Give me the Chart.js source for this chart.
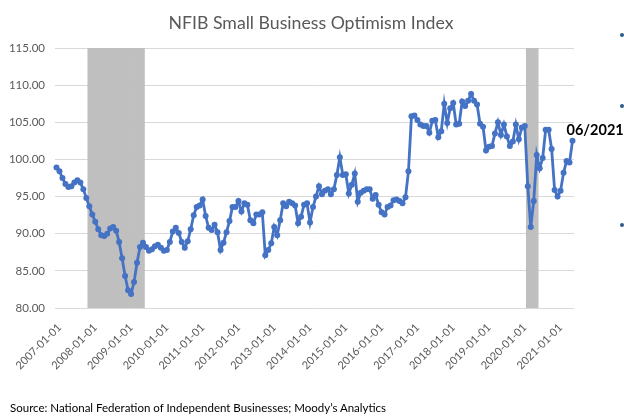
<!DOCTYPE html>
<html lang="en">
  <head>
    <meta charset="UTF-8" />
    <title>NFIB Small Business Optimism Index</title>
    <script src="https://cdn.jsdelivr.net/npm/chart.js"></script>
    <style>
      body {
        margin: 0;
        background: #fff;
      }
      #wrap {
        position: relative;
        width: 624px;
        height: 416px;
      }
      #title {
        position: absolute;
        left: 0;
        top: 12px;
        width: 622px;
        text-align: center;
        font: 17.7px/21px Lato, sans-serif;
        color: #595959;
      }
      #source {
        position: absolute;
        left: 10px;
        top: 401px;
        font: 11.5px Lato, sans-serif;
        color: #000;
        white-space: nowrap;
      }
      .dot {
        position: absolute;
        left: 620px;
        width: 4px;
        height: 4px;
        border-radius: 50%;
        background: #2e5c8a;
      }
    </style>
  </head>
  <body>
    <div id="wrap">
      <canvas id="chart" width="624" height="416"></canvas>
      <div id="title">NFIB Small Business Optimism Index</div>
      <div id="source">
        Source: National Federation of Independent Businesses; Moody’s Analytics
      </div>
      <span class="dot" style="top: 33px"></span>
      <span class="dot" style="top: 104px"></span>
      <span class="dot" style="top: 223px"></span>
    </div>
    <script>
      // monthly index values (Jan 2007 - Jun 2021)
      const firstYear = 2007
      const y2007 = [98.9, 98.4, 97.5, 96.7, 96.3, 96.4, 96.9, 97.2, 96.9, 96.0, 94.8, 93.7]
      const y2008 = [92.6, 91.6, 90.6, 89.8, 89.7, 90.0, 90.7, 90.9, 90.4, 88.9, 86.7, 84.3]
      const y2009 = [82.4, 81.9, 83.5, 86.1, 88.2, 88.8, 88.2, 87.7, 87.9, 88.3, 88.5, 88.1]
      const y2010 = [87.7, 87.8, 88.9, 90.3, 90.8, 90.1, 88.9, 88.1, 89.0, 90.6, 92.5, 93.6]
      const y2011 = [93.8, 94.6, 92.4, 90.8, 90.5, 91.2, 90.2, 87.8, 88.8, 90.2, 91.7, 93.6]
      const y2012 = [93.6, 94.4, 93.0, 94.1, 93.9, 91.8, 91.4, 92.6, 92.6, 92.9, 87.1, 87.8]
      const y2013 = [88.7, 90.9, 89.8, 91.8, 94.1, 93.7, 94.3, 94.1, 93.8, 91.4, 92.3, 93.9]
      const y2014 = [94.1, 91.5, 93.6, 95.0, 96.4, 95.3, 95.8, 96.0, 95.3, 96.0, 97.9, 100.3]
      const y2015 = [97.9, 98.0, 95.4, 96.6, 98.1, 94.3, 95.5, 95.8, 96.0, 96.0, 94.7, 95.2]
      const y2016 = [93.9, 92.9, 92.6, 93.6, 93.8, 94.5, 94.6, 94.4, 94.1, 94.9, 98.4, 105.8]
      const y2017 = [105.9, 105.3, 104.7, 104.5, 104.5, 103.6, 105.2, 105.3, 103.0, 103.8, 107.5, 104.9]
      const y2018 = [106.9, 107.6, 104.7, 104.8, 107.8, 107.2, 107.9, 108.8, 107.9, 107.4, 104.8, 104.4]
      const y2019 = [101.2, 101.7, 101.8, 103.5, 105.0, 103.3, 104.7, 103.1, 101.8, 102.4, 104.7, 102.7]
      const y2020 = [104.3, 104.5, 96.4, 90.9, 94.4, 100.6, 98.8, 100.2, 104.0, 104.0, 101.4, 95.9]
      const y2021 = [95.0, 95.8, 98.2, 99.8, 99.6, 102.5]

      const optimism = [].concat(
        y2007, y2008, y2009, y2010, y2011, y2012, y2013, y2014,
        y2015, y2016, y2017, y2018, y2019, y2020, y2021
      )

      // shaded recession months (first, last)
      const recessions = [
        ['2007-12-01', '2009-06-01'],
        ['2020-03-01', '2020-06-01'],
      ]
      const lastLabelText = '06/2021'
      const yMin = 80
      const yMax = 115

      const months = []
      for (let i = 0; i < optimism.length; i++) {
        const yr = firstYear + Math.floor(i / 12)
        const mo = String((i % 12) + 1).padStart(2, '0')
        months.push(`${yr}-${mo}-01`)
      }
      const recessionBars = months.map((m) =>
        recessions.some(([a, b]) => m >= a && m <= b) ? [yMin, yMax] : null
      )

      // "06/2021" next to the last point
      const lastLabel = {
        id: 'lastLabel',
        afterDatasetsDraw(chart) {
          const meta = chart.getDatasetMeta(1)
          const pt = meta.data[meta.data.length - 1]
          const ctx = chart.ctx
          ctx.save()
          ctx.font = 'bold 14.5px Lato'
          ctx.fillStyle = '#000'
          ctx.textBaseline = 'middle'
          ctx.fillText(lastLabelText, pt.x - 6, pt.y - 11)
          ctx.restore()
        },
      }

      const gray = '#595959'

      new Chart(document.getElementById('chart'), {
        type: 'line',
        data: {
          labels: months,
          datasets: [
            {
              type: 'bar',
              data: recessionBars,
              backgroundColor: '#bfbfbf',
              borderWidth: 0,
              barPercentage: 1,
              categoryPercentage: 1,
              order: 2,
            },
            {
              data: optimism,
              borderColor: '#4472c4',
              backgroundColor: '#4472c4',
              borderWidth: 2.8,
              pointRadius: 3,
              pointBorderWidth: 0,
              tension: 0,
              order: 1,
            },
          ],
        },
        options: {
          responsive: false,
          animation: false,
          layout: { padding: { left: 0, right: 50, top: 48, bottom: 0 } },
          plugins: {
            legend: { display: false },
            tooltip: { enabled: false },
            title: { display: false },
          },
          scales: {
            x: {
              type: 'category',
              offset: true,
              grid: { display: false, drawTicks: false },
              border: { display: false },
              ticks: {
                autoSkip: false,
                maxRotation: 45,
                minRotation: 45,
                color: gray,
                font: { family: 'Lato', size: 11 },
                padding: 13,
                labelOffset: 3,
                callback: (val, idx) => (idx % 12 === 0 ? months[idx] : null),
              },
              afterFit: (scale) => {
                scale.height = 108
              },
            },
            y: {
              min: yMin,
              max: yMax,
              grid: { color: '#d9d9d9', drawTicks: false },
              border: { display: false },
              ticks: {
                stepSize: 5,
                color: gray,
                font: { family: 'Lato', size: 11.5 },
                padding: 10,
                callback: (v) => v.toFixed(2),
              },
              afterFit: (scale) => {
                scale.width = 55
              },
            },
          },
        },
        plugins: [lastLabel],
      })
    </script>
  </body>
</html>
